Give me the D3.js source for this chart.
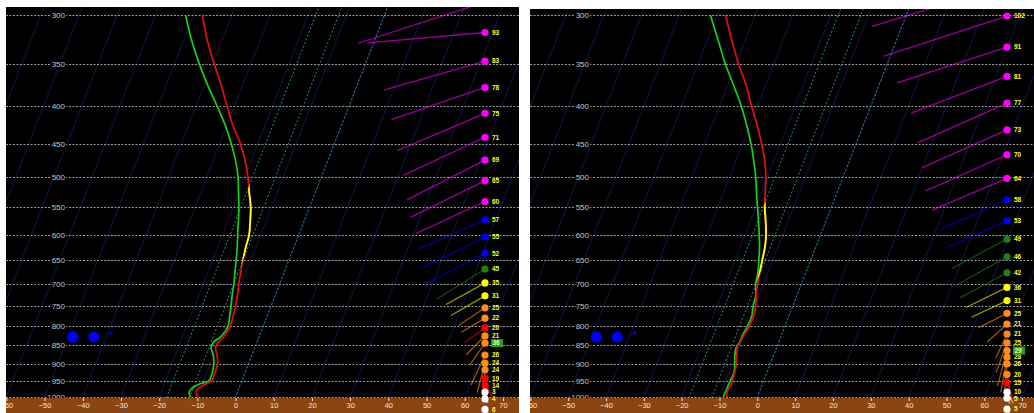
<!DOCTYPE html>
<html><head><meta charset="utf-8">
<script src="https://cdn.jsdelivr.net/npm/d3@7"></script>
<style>body{margin:0;background:#fff;} svg{display:block;}</style>
</head><body><svg id="c" width="1034" height="413"></svg>
<script>
// ---------------- data ----------------
const pressureTicks = [300,350,400,450,500,550,600,650,700,750,800,850,900,950,1000];
const tempTicks = [-60,-50,-40,-30,-20,-10,0,10,20,30,40,50,60,70];
const keyIsotherms = [-18,-12,0];
const dgzRange = [-18,-12];

const levels   = [300,325,350,375,400,425,450,475,500,525,550,575,600,625,650,675,700,725,750,775,800,825,840,855,875,900,925,950,960,975,990,1000];
const tempLeft = [-47.7,-43.8,-39.6,-35.5,-31.9,-28.4,-24.6,-21.6,-19.2,-17.3,-15.4,-14.1,-13.0,-12.6,-12.0,-11.4,-10.7,-9.9,-9.3,-8.9,-8.6,-9.2,-10.0,-10.3,-9.2,-8.1,-7.9,-7.9,-9.1,-10.8,-10.6,-9.9];
const dewLeft  = [-52.1,-47.9,-43.5,-39.0,-34.5,-30.4,-27.0,-24.1,-21.8,-20.1,-18.5,-17.2,-16.0,-14.8,-13.8,-12.9,-12.0,-11.3,-10.5,-9.8,-9.2,-9.9,-11.3,-11.5,-10.2,-9.1,-8.6,-8.6,-10.8,-12.5,-12.5,-11.7];
const tempRight= [-47.8,-43.5,-39.3,-35.0,-31.5,-28.0,-25.0,-22.4,-20.4,-19.0,-17.6,-15.9,-14.4,-13.4,-12.8,-12.2,-11.6,-10.8,-9.8,-9.3,-9.4,-10.0,-10.2,-10.4,-9.8,-9.0,-8.5,-8.3,-8.2,-8.5,-8.4,-8.1];
const dewRight = [-51.8,-47.1,-42.8,-38.3,-34.2,-30.8,-27.8,-25.3,-23.1,-21.3,-19.5,-17.8,-16.2,-14.8,-13.7,-12.7,-12.1,-10.9,-10.5,-9.8,-9.9,-10.3,-10.3,-10.7,-10.3,-9.4,-8.7,-8.8,-8.9,-8.9,-9.0,-9.0];

const windPresLeft = [288,317,347,377,409,441,474,506,540,572,604,636,668,698,727,755,780,804,825,844,876,899,918,943,965,985,1006,1040];
const windSpdLeft  = [105,93,83,78,75,71,69,65,60,57,55,52,45,35,31,25,22,19.6,21,21,26,24,24,19,14,3,4,6];
const windDirLeft  = [252,265,254,251,247,245,243,244,245,246,244,243,238,241,240,236,239,234,225,215,205,195,185,160,145,150,140,140];
const boxPresLeft = 844, boxTextLeft = "36";

const windPresRight = [273,301,332,364,396,431,466,502,537,574,608,643,676,708,738,768,795,820,843,864,882,901,931,956,985,1004,1039];
const windSpdRight  = [111,102,91,81,77,73,70,64,58,53,49,46,42,36,31,25,21,21,25,29,28,26,20.4,15,10,5,5];
const windDirRight  = [253,252,252,249,246,246,246,247,246,246,242,241,242,244,245,243,228,205,200,195,190,185,170,160,150,150,150];
const boxPresRight = 864, boxTextRight = "29";

const markerTemp = [-48.7,-43.2,-39.1];
const markerPres = [828,828,817];
const markerSize = [5.5,5.5,1.6];

const speedBreaks = [10.5,20,30,40,50,60];
const speedColors = ['#ffffff','#ff0000','#ff8c1a','#ffff00','#1e7d1e','#0000ff','#ff00ff'];

// ---------------- drawing ----------------
const svg = d3.select('#c');
const tempDomain = [-60.1, 74.2];
const K = 0.39;
const Y1000 = 397, Y300 = 15, YBOT = 398;
const colorOf = d3.scaleThreshold().domain(speedBreaks).range(speedColors);
const FONT = 'Liberation Sans, Arial, sans-serif';

function drawPanel(cfg, id) {
  const xs = d3.scaleLinear().domain(tempDomain).range([cfg.x0, cfg.x1]);
  const ys = d3.scaleLog().domain([1000,300]).range([Y1000, Y300]);
  const sx = (T,p) => xs(T) + K*(ys(1000)-ys(p));
  const g = svg.append('g');
  const defs = svg.append('defs');
  defs.append('clipPath').attr('id','plot'+id).append('rect')
    .attr('x',cfg.x0).attr('y',cfg.top).attr('width',cfg.x1-cfg.x0).attr('height',YBOT-cfg.top);
  defs.append('clipPath').attr('id','wind'+id).append('rect')
    .attr('x',cfg.x0).attr('y',cfg.top).attr('width',cfg.x1-cfg.x0).attr('height',413-cfg.top);
  const pTop = ys.invert(cfg.top), pBot = ys.invert(YBOT);
  defs.append('clipPath').attr('id','dgz'+id).append('polygon')
    .attr('points',[[sx(dgzRange[0],pBot),YBOT],[sx(dgzRange[1],pBot),YBOT],[sx(dgzRange[1],pTop),cfg.top],[sx(dgzRange[0],pTop),cfg.top]].map(d=>d.join(',')).join(' '));

  g.append('rect').attr('x',cfg.x0).attr('y',cfg.top).attr('width',cfg.x1-cfg.x0).attr('height',YBOT-cfg.top).attr('fill','#000');
  g.append('rect').attr('x',cfg.x0).attr('y',YBOT).attr('width',cfg.x1-cfg.x0).attr('height',413-YBOT).attr('fill','#8a4513');

  const plot = g.append('g').attr('clip-path','url(#plot'+id+')');
  const iso = d3.range(-150, 80, 10);
  plot.selectAll('line.iso').data(iso).enter().append('line')
    .attr('x1',d=>sx(d,pBot)).attr('y1',YBOT).attr('x2',d=>sx(d,pTop)).attr('y2',cfg.top)
    .attr('stroke','#10103f').attr('stroke-width',1.2);
  plot.selectAll('line.grid').data(pressureTicks).enter().append('line')
    .attr('x1',cfg.x0).attr('x2',cfg.x1).attr('y1',d=>Math.round(ys(d))+0.5).attr('y2',d=>Math.round(ys(d))+0.5)
    .attr('stroke','#9a9a9a').attr('stroke-dasharray','2,1.5').attr('stroke-width',1);
  plot.selectAll('line.key').data(keyIsotherms).enter().append('line')
    .attr('x1',d=>sx(d,pBot)).attr('y1',YBOT).attr('x2',d=>sx(d,pTop)).attr('y2',cfg.top)
    .attr('stroke','#1f9080').attr('stroke-dasharray','2,2').attr('stroke-width',1);
  const pax = plot.append('g').attr('transform','translate('+(cfg.x0+60)+',0)')
    .call(d3.axisLeft(ys).tickValues(pressureTicks).tickFormat(d3.format('d')).tickSize(0).tickPadding(1));
  pax.select('.domain').remove();
  pax.selectAll('text').attr('fill','#c8c8c8').attr('font-size',8).attr('font-family',FONT)
    .attr('stroke','#000').attr('stroke-width',3).attr('paint-order','stroke');

  plot.selectAll('circle.mk').data(markerTemp).enter().append('circle')
    .attr('cx',(d,i)=>sx(d,markerPres[i])).attr('cy',(d,i)=>ys(markerPres[i])).attr('r',(d,i)=>markerSize[i]).attr('fill','#0000ff');

  const tData = levels.map((p,i)=>({p,T:cfg.temp[i]}));
  const dData = levels.map((p,i)=>({p,T:cfg.dew[i]}));
  const line = d3.line().x(d=>sx(d.T,d.p)).y(d=>ys(d.p)).curve(d3.curveCatmullRom.alpha(0.5));
  plot.append('path').attr('d',line(dData)).attr('fill','none').attr('stroke','#19d019').attr('stroke-width',1.7);
  plot.append('path').attr('d',line(tData)).attr('fill','none').attr('stroke','#e01010').attr('stroke-width',1.7);
  plot.append('g').attr('clip-path','url(#dgz'+id+')').append('path').attr('d',line(tData))
    .attr('fill','none').attr('stroke','#ffff00').attr('stroke-width',1.9);

  const tax = g.append('g').attr('transform','translate(0,'+YBOT+')')
    .call(d3.axisBottom(xs).tickValues(tempTicks).tickSize(3).tickPadding(2).tickFormat(d3.format('d')));
  tax.select('.domain').remove();
  tax.selectAll('line').attr('stroke','#f0e6d8');
  tax.selectAll('text').attr('fill','#f0e6d8').attr('font-size',7.5).attr('font-family',FONT);

  const wg = g.append('g').attr('clip-path','url(#wind'+id+')');
  const W = cfg.windPres.map((p,i)=>{
    const y = ys(p), L = 1.27*cfg.windSpd[i], a = cfg.windDir[i]*Math.PI/180;
    return {p, y, spd:cfg.windSpd[i], x2: cfg.windX + L*Math.sin(a), y2: y - L*Math.cos(a)};
  });
  wg.selectAll('line.w').data(W).enter().append('line')
    .attr('x1',cfg.windX).attr('y1',d=>d.y).attr('x2',d=>d.x2).attr('y2',d=>d.y2)
    .attr('stroke',d=>colorOf(d.spd)).attr('stroke-opacity',0.6).attr('stroke-width',1.3);
  wg.selectAll('circle.w').data(W.filter(d=>d.y>=cfg.top)).enter().append('circle')
    .attr('cx',cfg.windX).attr('cy',d=>d.y).attr('r',3.6).attr('fill',d=>colorOf(d.spd));
  wg.selectAll('text.w').data(W.filter(d=>d.p!==cfg.boxPres && d.y>=cfg.top+4)).enter().append('text')
    .attr('x',cfg.windX+7).attr('y',d=>d.y).attr('dy','0.35em').text(d=>Math.round(d.spd))
    .attr('fill','#ffff30').attr('font-size',6.5).attr('font-weight','bold').attr('font-family',FONT);
  const bw = W.find(d=>d.p===cfg.boxPres);
  wg.append('rect').attr('x',cfg.windX+6).attr('y',bw.y-4).attr('width',12).attr('height',8).attr('fill','#2f9a2f');
  wg.append('text').attr('x',cfg.windX+7.5).attr('y',bw.y).attr('dy','0.35em').text(cfg.boxText)
    .attr('fill','#e8ff80').attr('font-size',6.5).attr('font-weight','bold').attr('font-family',FONT);
}

drawPanel({x0:6,x1:519,top:7,windX:485,temp:tempLeft,dew:dewLeft,
  windPres:windPresLeft,windSpd:windSpdLeft,windDir:windDirLeft,boxPres:boxPresLeft,boxText:boxTextLeft},'L');
drawPanel({x0:530,x1:1038,top:9,windX:1007,temp:tempRight,dew:dewRight,
  windPres:windPresRight,windSpd:windSpdRight,windDir:windDirRight,boxPres:boxPresRight,boxText:boxTextRight},'R');
</script></body></html>
